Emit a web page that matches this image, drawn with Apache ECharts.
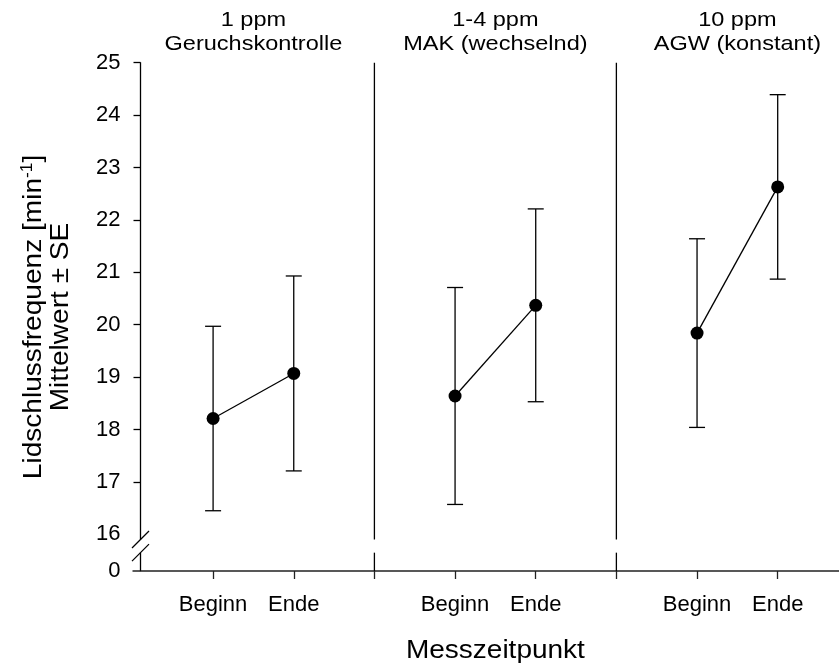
<!DOCTYPE html>
<html>
<head>
<meta charset="utf-8">
<script src="https://cdn.jsdelivr.net/npm/echarts@6/dist/echarts.min.js"></script>
<style>
  html, body { margin: 0; padding: 0; background: #fff; }
  #chart { width: 839px; height: 668px; }
</style>
</head>
<body>
<div id="chart"></div>
<script>
// Exposure conditions, one panel each
const groupTitles = ['1 ppm\nGeruchskontrolle', '1-4 ppm\nMAK (wechselnd)', '10 ppm\nAGW (konstant)'];
// Measurement times inside every panel
const timePoints = ['Beginn', 'Ende'];
// Blink rate, mean per panel and time point [1/min]
const meanValues = [18.21, 19.07, 18.64, 20.37, 19.84, 22.63];
// Standard error of each mean
const seValues = [1.76, 1.86, 2.07, 1.84, 1.80, 1.76];
// Tick values on the upper (unbroken) part of the y axis
const yTickValues = [16, 17, 18, 19, 20, 21, 22, 23, 24, 25];
// Value written below the axis break
const yBreakLabel = '0';

// Axis geometry: the broken y axis keeps 16..25 linear and puts "0" just below the break
const Y_MAX = 25;
const Y_FLOOR = 15.3;        // axis position standing for 0
const BREAK_TOP = 15.9;      // gap in y axis and separators
const BREAK_BOTTOM = 15.65;
const X_MIN = 0.1, X_MAX = 8.76;
const SLOTS = 3;             // x units per panel (Beginn, Ende, separator)

const FONT = "'Liberation Sans', Arial, Helvetica, sans-serif";
const INK = '#000';
const WIDE = 1.12;           // horizontal text stretch of the headings

// x position of every measurement
const xPos = (panel, t) => panel * SLOTS + 1 + t;

const points = [];
meanValues.forEach((m, i) => {
  const panel = Math.floor(i / timePoints.length), t = i % timePoints.length;
  points.push({ panel, t, x: xPos(panel, t), mean: m, se: seValues[i] });
});

// labels along x
const xLabelValues = [];
const xLabelText = {};
groupTitles.forEach((g, p) => timePoints.forEach((tp, t) => {
  xLabelValues.push(xPos(p, t));
  xLabelText[xPos(p, t)] = tp;
}));
const xTickValues = [];
for (let v = 1; v < X_MAX; v++) xTickValues.push(v);
const separators = [];
for (let p = 1; p < groupTitles.length; p++) separators.push([p * SLOTS, Y_MAX]);

const lineStyle = { stroke: INK, lineWidth: 1.3 };

const chart = echarts.init(document.getElementById('chart'), null, { renderer: 'canvas' });

const series = [];

// panel separators, interrupted at the axis break
series.push({
  type: 'custom',
  silent: true,
  clip: false,
  z: 1,
  data: separators,
  encode: { x: 0, y: 1 },
  renderItem(params, api) {
    const x = api.value(0);
    const a = api.coord([x, Y_MAX]), b = api.coord([x, BREAK_TOP]);
    const c = api.coord([x, BREAK_BOTTOM]), d = api.coord([x, Y_FLOOR]);
    return {
      type: 'group',
      children: [
        { type: 'line', shape: { x1: a[0], y1: a[1], x2: b[0], y2: b[1] }, style: lineStyle },
        { type: 'line', shape: { x1: c[0], y1: c[1], x2: d[0], y2: d[1] }, style: lineStyle }
      ]
    };
  }
});

// y axis line with break marks
series.push({
  type: 'custom',
  silent: true,
  clip: false,
  z: 1,
  data: [[X_MIN, Y_MAX]],
  encode: { x: 0, y: 1 },
  renderItem(params, api) {
    const x = api.value(0);
    const a = api.coord([x, Y_MAX]), b = api.coord([x, BREAK_TOP]);
    const c = api.coord([x, BREAK_BOTTOM]), d = api.coord([x, Y_FLOOR]);
    const s = 8.5;
    return {
      type: 'group',
      children: [
        { type: 'line', shape: { x1: a[0], y1: a[1] - 0.5, x2: b[0], y2: b[1] }, style: lineStyle },
        { type: 'line', shape: { x1: c[0], y1: c[1], x2: d[0], y2: d[1] }, style: lineStyle },
        { type: 'line', shape: { x1: b[0] - s, y1: b[1] + s, x2: b[0] + s, y2: b[1] - s }, style: lineStyle },
        { type: 'line', shape: { x1: c[0] - s, y1: c[1] + s, x2: c[0] + s, y2: c[1] - s }, style: lineStyle },
        { type: 'line', shape: { x1: d[0] - 8, y1: d[1], x2: d[0], y2: d[1] }, style: { stroke: '#222', lineWidth: 1.5 } }
      ]
    };
  }
});

// error bars: mean ± SE
series.push({
  type: 'custom',
  silent: true,
  z: 2,
  data: points.map(p => [p.x, p.mean - p.se, p.mean + p.se]),
  encode: { x: 0, y: [1, 2] },
  renderItem(params, api) {
    const x = api.value(0);
    const lo = api.coord([x, api.value(1)]), hi = api.coord([x, api.value(2)]);
    const cap = 8;
    return {
      type: 'group',
      children: [
        { type: 'line', shape: { x1: lo[0], y1: lo[1], x2: hi[0], y2: hi[1] }, style: lineStyle },
        { type: 'line', shape: { x1: lo[0] - cap, y1: lo[1], x2: lo[0] + cap, y2: lo[1] }, style: lineStyle },
        { type: 'line', shape: { x1: hi[0] - cap, y1: hi[1], x2: hi[0] + cap, y2: hi[1] }, style: lineStyle }
      ]
    };
  }
});

// mean values, Beginn joined to Ende inside each panel
groupTitles.forEach((g, p) => {
  series.push({
    type: 'line',
    name: g,
    z: 3,
    silent: true,
    symbol: 'circle',
    symbolSize: 13,
    itemStyle: { color: INK },
    lineStyle: { color: INK, width: 1.3 },
    data: points.filter(pt => pt.panel === p).map(pt => [pt.x, pt.mean]),
    animation: false
  });
});

chart.setOption({
  animation: false,
  backgroundColor: '#fff',
  grid: { left: 140.5, top: 62.7, right: 0, height: 508.3, containLabel: false },
  xAxis: {
    type: 'value',
    min: X_MIN,
    max: X_MAX,
    axisLine: { show: true, lineStyle: { color: '#222', width: 1.5 } },
    axisTick: { show: true, customValues: xTickValues, length: 8, inside: false, lineStyle: { color: '#222', width: 1.3 } },
    axisLabel: {
      customValues: xLabelValues,
      formatter: v => xLabelText[v] || '',
      fontFamily: FONT, fontSize: 22, color: INK, margin: 23
    },
    splitLine: { show: false }
  },
  yAxis: {
    type: 'value',
    min: Y_FLOOR,
    max: Y_MAX,
    axisLine: { show: false },
    axisTick: { show: true, customValues: yTickValues.filter(v => v > yTickValues[0]), length: 7, inside: false, lineStyle: { color: INK, width: 1.3 } },
    axisLabel: {
      customValues: [Y_FLOOR].concat(yTickValues),
      formatter: v => (v < yTickValues[0] ? yBreakLabel : String(v)),
      fontFamily: FONT, fontSize: 22, color: INK, margin: 20
    },
    splitLine: { show: false }
  },
  series
});

// panel headings, the x axis title and the y axis title
const px = v => chart.convertToPixel({ xAxisIndex: 0 }, v);
const graphics = groupTitles.map((g, p) => ({
  type: 'text',
  x: px(xPos(p, 0.5)),
  y: 8,
  scaleX: WIDE,
  silent: true,
  style: {
    text: g, fill: INK, font: `21px ${FONT}`, lineHeight: 24,
    align: 'center', verticalAlign: 'top'
  }
}));
graphics.push({
  type: 'text',
  x: px(4.5),
  y: 651,
  scaleX: WIDE,
  silent: true,
  style: { text: 'Messzeitpunkt', fill: INK, font: `25px ${FONT}`, align: 'center', verticalAlign: 'middle' }
});
graphics.push({
  type: 'text',
  x: 47,
  y: 317,
  rotation: Math.PI / 2,
  scaleX: 1.08,
  silent: true,
  style: {
    text: '{a|Lidschlussfrequenz [min}{s|-1}{a|]}\n{a|Mittelwert ± SE}',
    align: 'center', verticalAlign: 'middle',
    rich: {
      a: { fontFamily: FONT, fontSize: 26, lineHeight: 27, color: INK },
      s: { fontFamily: FONT, fontSize: 16, lineHeight: 27, verticalAlign: 'top', padding: [0, 0, 12, 0], color: INK }
    }
  }
});
chart.setOption({ graphic: graphics });
</script>
</body>
</html>
